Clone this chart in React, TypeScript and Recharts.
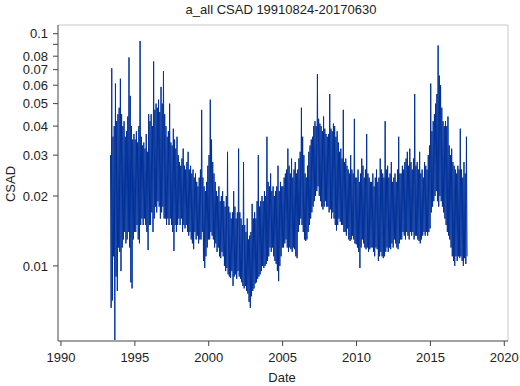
import { LineChart, Line, XAxis, YAxis, ReferenceLine } from "recharts";

// monthly high / low of the daily CSAD series, May 1993 .. Jun 2017
const years = [
  1993, 1994, 1995, 1996, 1997, 1998, 1999, 2000, 2001, 2002, 2003, 2004, 2005,
  2006, 2007, 2008, 2009, 2010, 2011, 2012, 2013, 2014, 2015, 2016, 2017,
];
const firstMonth = 4; // series starts in May 1993

const monthHigh = [
  [0.030, 0.071, 0.036, 0.040, 0.061, 0.042, 0.045, 0.048],
  [0.064, 0.045, 0.040, 0.042, 0.036, 0.038, 0.044, 0.079, 0.054, 0.040, 0.035, 0.037],
  [0.035, 0.038, 0.034, 0.040, 0.093, 0.036, 0.033, 0.034, 0.032, 0.037, 0.031, 0.045],
  [0.042, 0.045, 0.040, 0.076, 0.047, 0.050, 0.048, 0.052, 0.046, 0.059, 0.050, 0.069],
  [0.045, 0.040, 0.036, 0.038, 0.050, 0.034, 0.033, 0.039, 0.035, 0.032, 0.036, 0.030],
  [0.028, 0.027, 0.029, 0.032, 0.027, 0.026, 0.028, 0.031, 0.026, 0.027, 0.025, 0.026],
  [0.024, 0.025, 0.023, 0.022, 0.024, 0.026, 0.047, 0.024, 0.022, 0.021, 0.023, 0.027],
  [0.030, 0.052, 0.035, 0.028, 0.025, 0.023, 0.021, 0.020, 0.022, 0.019, 0.020, 0.021],
  [0.019, 0.018, 0.020, 0.031, 0.018, 0.017, 0.016, 0.017, 0.021, 0.018, 0.016, 0.017],
  [0.032, 0.017, 0.016, 0.015, 0.028, 0.015, 0.014, 0.016, 0.013, 0.0135, 0.014, 0.0185],
  [0.016, 0.017, 0.016, 0.019, 0.030, 0.018, 0.019, 0.020, 0.019, 0.021, 0.020, 0.036],
  [0.023, 0.022, 0.025, 0.021, 0.022, 0.020, 0.021, 0.022, 0.027, 0.021, 0.023, 0.022],
  [0.022, 0.024, 0.025, 0.026, 0.032, 0.027, 0.025, 0.029, 0.024, 0.026, 0.028, 0.025],
  [0.026, 0.029, 0.031, 0.048, 0.036, 0.030, 0.025, 0.024, 0.027, 0.031, 0.033, 0.035],
  [0.036, 0.040, 0.042, 0.040, 0.067, 0.043, 0.041, 0.040, 0.038, 0.044, 0.039, 0.037],
  [0.036, 0.037, 0.055, 0.039, 0.038, 0.041, 0.040, 0.036, 0.038, 0.034, 0.031, 0.032],
  [0.029, 0.047, 0.028, 0.029, 0.027, 0.026, 0.025, 0.030, 0.026, 0.025, 0.043, 0.024],
  [0.024, 0.026, 0.023, 0.025, 0.029, 0.027, 0.024, 0.026, 0.037, 0.025, 0.024, 0.023],
  [0.023, 0.025, 0.022, 0.024, 0.026, 0.023, 0.024, 0.029, 0.026, 0.025, 0.024, 0.042],
  [0.026, 0.027, 0.024, 0.025, 0.028, 0.023, 0.024, 0.025, 0.023, 0.026, 0.036, 0.025],
  [0.025, 0.027, 0.026, 0.028, 0.029, 0.031, 0.027, 0.032, 0.028, 0.026, 0.029, 0.055],
  [0.027, 0.028, 0.026, 0.031, 0.025, 0.026, 0.024, 0.028, 0.027, 0.026, 0.030, 0.033],
  [0.061, 0.038, 0.042, 0.045, 0.050, 0.055, 0.089, 0.066, 0.060, 0.048, 0.042, 0.040],
  [0.042, 0.040, 0.044, 0.033, 0.030, 0.032, 0.028, 0.027, 0.026, 0.025, 0.027, 0.026],
  [0.039, 0.026, 0.024, 0.028, 0.025, 0.036],
];

const monthLow = [
  [0.0066, 0.0071, 0.011, 0.0048, 0.0090, 0.0078, 0.012, 0.0115],
  [0.0095, 0.012, 0.013, 0.014, 0.0125, 0.013, 0.014, 0.012, 0.0085, 0.008, 0.013, 0.014],
  [0.014, 0.015, 0.013, 0.0125, 0.015, 0.016, 0.015, 0.016, 0.015, 0.014, 0.0117, 0.015],
  [0.015, 0.017, 0.014, 0.016, 0.018, 0.017, 0.019, 0.018, 0.016, 0.017, 0.018, 0.016],
  [0.016, 0.015, 0.016, 0.015, 0.016, 0.015, 0.014, 0.0116, 0.015, 0.014, 0.015, 0.016],
  [0.015, 0.016, 0.014, 0.015, 0.0145, 0.015, 0.014, 0.0135, 0.014, 0.013, 0.0125, 0.0118],
  [0.014, 0.013, 0.0135, 0.0125, 0.013, 0.013, 0.014, 0.0105, 0.0098, 0.011, 0.012, 0.013],
  [0.013, 0.014, 0.0135, 0.013, 0.012, 0.0125, 0.0115, 0.012, 0.011, 0.0108, 0.0115, 0.011],
  [0.010, 0.0095, 0.0098, 0.0092, 0.0090, 0.0089, 0.0095, 0.0082, 0.0090, 0.0092, 0.0088, 0.0095],
  [0.0090, 0.0088, 0.0085, 0.0082, 0.0080, 0.0082, 0.0078, 0.0076, 0.0070, 0.0066, 0.0074, 0.0078],
  [0.0080, 0.0084, 0.0085, 0.0088, 0.0090, 0.0092, 0.0095, 0.010, 0.0098, 0.0100, 0.0102, 0.0105],
  [0.011, 0.012, 0.0115, 0.012, 0.011, 0.0105, 0.0102, 0.0095, 0.0086, 0.010, 0.011, 0.012],
  [0.012, 0.0125, 0.013, 0.012, 0.0115, 0.012, 0.0118, 0.0115, 0.012, 0.0118, 0.011, 0.0108],
  [0.014, 0.015, 0.016, 0.015, 0.014, 0.013, 0.0128, 0.013, 0.014, 0.015, 0.016, 0.017],
  [0.018, 0.019, 0.020, 0.021, 0.022, 0.020, 0.019, 0.018, 0.0175, 0.018, 0.019, 0.018],
  [0.018, 0.017, 0.0175, 0.016, 0.017, 0.016, 0.015, 0.0142, 0.015, 0.016, 0.0155, 0.015],
  [0.015, 0.014, 0.014, 0.0135, 0.0145, 0.013, 0.0128, 0.013, 0.0135, 0.013, 0.0125, 0.0124],
  [0.012, 0.0115, 0.0098, 0.012, 0.013, 0.0125, 0.012, 0.0118, 0.012, 0.0115, 0.0118, 0.012],
  [0.012, 0.0115, 0.011, 0.012, 0.0118, 0.0105, 0.011, 0.0115, 0.011, 0.0108, 0.011, 0.0115],
  [0.012, 0.0115, 0.012, 0.0118, 0.0125, 0.012, 0.013, 0.0125, 0.012, 0.0118, 0.0125, 0.013],
  [0.013, 0.014, 0.0135, 0.013, 0.014, 0.0135, 0.013, 0.014, 0.0135, 0.014, 0.013, 0.0135],
  [0.0135, 0.013, 0.0128, 0.0125, 0.013, 0.0135, 0.014, 0.0135, 0.014, 0.0135, 0.014, 0.0145],
  [0.017, 0.018, 0.019, 0.020, 0.021, 0.019, 0.018, 0.020, 0.019, 0.018, 0.017, 0.016],
  [0.015, 0.014, 0.0135, 0.013, 0.012, 0.011, 0.0105, 0.010, 0.011, 0.0105, 0.011, 0.0108],
  [0.011, 0.0105, 0.010, 0.0108, 0.0102, 0.011],
];

const yearTicks = [1990, 1995, 2000, 2005, 2010, 2015, 2020];
const csadTicks = [0.01, 0.02, 0.03, 0.04, 0.05, 0.06, 0.07, 0.08, 0.09, 0.1];
const unlabeledTicks = [0.09];

const xDomain = [1989.8, 2020.25];
const yDomain = [0.00475, 0.109];

// each month: one point at its high, one at its low
const data: { t: number; v: number }[] = [];
years.forEach((yr, r) => {
  monthHigh[r].forEach((hi, i) => {
    const m = r === 0 ? firstMonth + i : i;
    data.push({ t: yr + (m + 0.25) / 12, v: hi });
    data.push({ t: yr + (m + 0.75) / 12, v: monthLow[r][i] });
  });
});

const font = "'Liberation Sans', Arial, Helvetica, sans-serif";
const tickStyle = { fontSize: 13, fill: "#222", fontFamily: font };

const textBox = (x: number, y: number, rotate = 0) => ({
  position: "absolute" as const,
  left: x,
  top: y,
  transform: `translate(-50%, -50%) rotate(${rotate}deg)`,
  fontFamily: font,
  fontSize: 13,
  color: "#222",
  whiteSpace: "nowrap" as const,
  lineHeight: 1,
});

export default function App() {
  return (
    <div style={{ position: "absolute", left: 0, top: 0, width: 520, height: 386, background: "#fff" }}>
      <LineChart
        width={520}
        height={386}
        data={data}
        margin={{ top: 25, right: 12, bottom: 0, left: 0 }}
      >
        <XAxis
          dataKey="t"
          type="number"
          domain={xDomain}
          ticks={yearTicks}
          interval={0}
          allowDataOverflow
          height={45}
          tickSize={5}
          tickMargin={7}
          tick={tickStyle}
          stroke="#444"
        />
        <YAxis
          type="number"
          scale="log"
          domain={yDomain}
          ticks={csadTicks}
          interval={0}
          allowDataOverflow
          width={58}
          tickSize={5}
          tickMargin={5}
          tick={tickStyle}
          tickFormatter={(v: number) => (unlabeledTicks.includes(v) ? "" : String(v))}
          stroke="#444"
        />
        <ReferenceLine y={yDomain[1]} stroke="#c8c8c8" ifOverflow="extendDomain" />
        <ReferenceLine x={xDomain[1]} stroke="#c8c8c8" ifOverflow="extendDomain" />
        <Line
          dataKey="v"
          type="linear"
          stroke="#00309a"
          strokeWidth={1}
          dot={false}
          isAnimationActive={false}
        />
      </LineChart>
      <div style={textBox(281, 9)}>a_all CSAD 19910824-20170630</div>
      <div style={textBox(10, 184, -90)}>CSAD</div>
      <div style={textBox(282, 377)}>Date</div>
    </div>
  );
}
